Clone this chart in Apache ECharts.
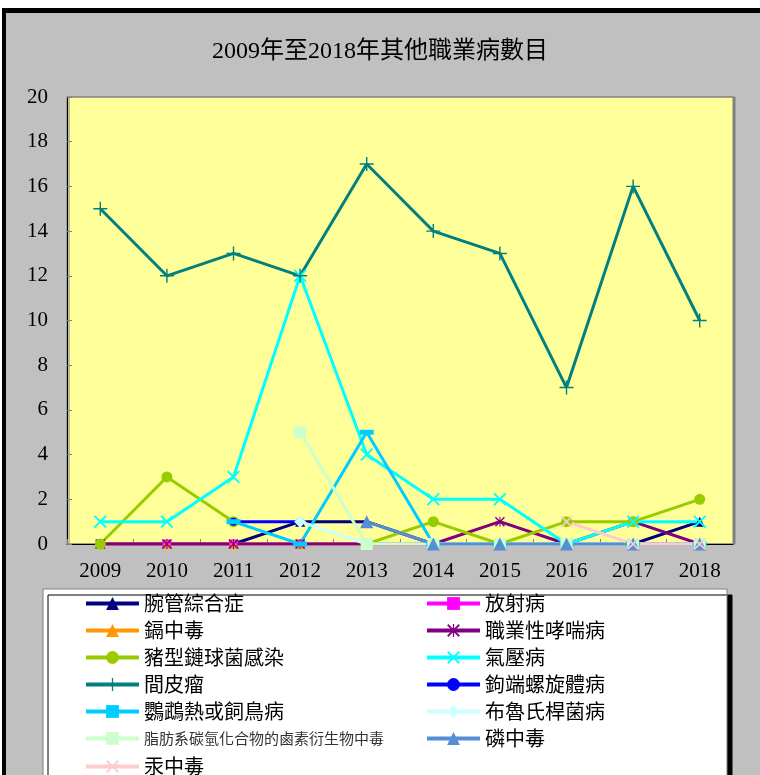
<!DOCTYPE html>
<html>
<head>
<meta charset="utf-8">
<script src="https://cdn.jsdelivr.net/npm/echarts@6/dist/echarts.min.js"></script>
<style>
  html, body { margin: 0; padding: 0; background: #fff; }
  #frame {
    position: absolute; left: 2px; top: 8px; width: 800px; height: 800px;
    background: #C0C0C0; border-left: 4px solid #000; border-top: 5px solid #000;
  }
  #chart { position: absolute; left: 0; top: 0; width: 760px; height: 775px; }
</style>
</head>
<body>
<div id="frame"></div>
<div id="chart"></div>
<script>
// 年份
const years = ['2009', '2010', '2011', '2012', '2013', '2014', '2015', '2016', '2017', '2018']

// 各職業病數目
const carpal = [0, 0, 0, 1, 1, 0, 0, 0, 0, 1]
const radiation = [0, 0, 0, 0, 0, 0, 0, 0, 0, 0]
const cadmium = [0, 0, 0, 0, 0, 0, 0, 0, 0, 0]
const asthma = [0, 0, 0, 0, 0, 0, 1, 0, 1, 0]
const strep = [0, 3, 1, null, 0, 1, 0, 1, 1, 2]
const decompression = [1, 1, 3, 12, 4, 2, 2, 0, 1, 1]
const mesothelioma = [15, 12, 13, 12, 17, 14, 13, 7, 16, 10]
const leptospirosis = [null, null, 1, 1, null, null, null, null, null, null]
const psittacosis = [null, null, 1, 0, 5, 0, 0, 0, 0, 0]
const brucellosis = [null, null, null, 1, 0, 0, 0, 0, 0, 0]
const halogen = [null, null, null, 5, 0, 0, 0, 0, 0, 0]
const phosphorus = [null, null, null, null, 1, 0, 0, 0, 0, 0]
const mercury = [null, null, null, null, null, null, null, 1, 0, 0]

const yTicks = { min: 0, max: 20, interval: 2 }

const X_PATH = 'path://M0,2 L2,0 L10,8 L18,0 L20,2 L12,10 L20,18 L18,20 L10,12 L2,20 L0,18 L8,10 Z'
const PLUS_PATH = 'path://M9,0 L11,0 L11,9 L20,9 L20,11 L11,11 L11,20 L9,20 L9,11 L0,11 L0,9 L9,9 Z'
const STAR_PATH = 'path://M0,2 L2,0 L10,8 L18,0 L20,2 L12,10 L20,18 L18,20 L10,12 L2,20 L0,18 L8,10 Z M9,0 L11,0 L11,20 L9,20 Z'
const DASH_PATH = 'path://M0,0 L20,0 L20,7 L0,7 Z'

const defs = [
  { name: '腕管綜合症', data: carpal, color: '#000080', symbol: 'triangle', size: 10 },
  { name: '放射病', data: radiation, color: '#FF00FF', symbol: 'rect', size: 9 },
  { name: '鎘中毒', data: cadmium, color: '#FF9900', symbol: 'triangle', size: 10 },
  { name: '職業性哮喘病', data: asthma, color: '#800080', symbol: STAR_PATH, size: 10 },
  { name: '豬型鏈球菌感染', data: strep, color: '#99CC00', symbol: 'circle', size: 11 },
  { name: '氣壓病', data: decompression, color: '#00FFFF', symbol: X_PATH, size: 13 },
  { name: '間皮瘤', data: mesothelioma, color: '#008080', symbol: PLUS_PATH, size: 14 },
  { name: '鉤端螺旋體病', data: leptospirosis, color: '#0000FF', symbol: 'circle', size: 8 },
  { name: '鸚鵡熱或飼鳥病', data: psittacosis, color: '#00CCFF', symbol: DASH_PATH, size: [14, 5] },
  { name: '布魯氏桿菌病', data: brucellosis, color: '#CCFFFF', symbol: 'diamond', size: 12 },
  { name: '脂肪系碳氫化合物的鹵素衍生物中毒', data: halogen, color: '#CCFFCC', symbol: 'rect', size: 12 },
  { name: '磷中毒', data: phosphorus, color: '#558ED5', symbol: 'triangle', size: 13 },
  { name: '汞中毒', data: mercury, color: '#FFCCCC', symbol: X_PATH, size: 12 }
]

const chart = echarts.init(document.getElementById('chart'))

const legendText = {
  color: '#000',
  fontFamily: '"Noto Sans CJK TC", sans-serif',
  fontSize: 20,
  lineHeight: 27,
  rich: { s: { fontSize: 15, lineHeight: 27, color: '#333', fontFamily: '"Noto Sans CJK TC", sans-serif' } }
}
const legendFmt = name => name.length > 10 ? '{s|' + name + '}' : name

const legendBase = {
  orient: 'vertical', padding: 0, itemGap: 0,
  itemWidth: 53, itemHeight: 16,
  lineStyle: { width: 4 },
  textStyle: legendText, formatter: legendFmt, z: 5
}

chart.setOption({
  backgroundColor: 'transparent',
  animation: false,
  title: {
    text: '2009年至2018年其他職業病數目',
    left: 'center',
    top: 35,
    textStyle: { fontSize: 24, fontWeight: 'normal', color: '#000', fontFamily: '"Liberation Serif", "Noto Sans CJK TC", serif' }
  },
  graphic: [{
    type: 'rect',
    shape: { x: 43, y: 589, width: 684, height: 220 },
    style: { fill: '#fff', stroke: '#808080', lineWidth: 1, shadowColor: '#000', shadowBlur: 0, shadowOffsetX: 5, shadowOffsetY: 6 },
    z: 0
  }],
  legend: [
    Object.assign({}, legendBase, { left: 84, top: 590, data: defs.slice(0, 12).filter((d, i) => i % 2 === 0).map(d => d.name) }),
    Object.assign({}, legendBase, { left: 425, top: 590, data: defs.filter((d, i) => i % 2 === 1).map(d => d.name) }),
    Object.assign({}, legendBase, { left: 84, top: 753, data: [defs[12].name] })
  ],
  grid: {
    left: 67, top: 97, right: 27, height: 447,
    show: true, backgroundColor: '#FFFF99', borderColor: '#808080', borderWidth: 1,
    shadowColor: '#808080', shadowBlur: 0, shadowOffsetX: 2, shadowOffsetY: 0
  },
  xAxis: {
    type: 'category',
    data: years,
    boundaryGap: true,
    axisLine: { show: true, lineStyle: { color: '#000', width: 1 } },
    axisTick: { show: true, inside: true, length: 5, lineStyle: { color: '#808080' } },
    axisLabel: { color: '#000', fontSize: 21, margin: 17, fontFamily: '"Liberation Serif", serif' },
    splitLine: { show: false }
  },
  yAxis: {
    type: 'value',
    min: yTicks.min, max: yTicks.max, interval: yTicks.interval,
    axisLine: { show: true, lineStyle: { color: '#000', width: 1 } },
    axisTick: { show: true, inside: true, length: 5, lineStyle: { color: '#808080' } },
    axisLabel: { color: '#000', fontSize: 21, margin: 19, fontFamily: '"Liberation Serif", serif' },
    splitLine: { show: false }
  },
  series: defs.map(d => ({
    name: d.name,
    type: 'line',
    data: d.data,
    symbol: d.symbol,
    symbolSize: d.size,
    showAllSymbol: true,
    connectNulls: false,
    lineStyle: { color: d.color, width: 3 },
    itemStyle: { color: d.color },
    emphasis: { disabled: true }
  }))
})
</script>
</body>
</html>
